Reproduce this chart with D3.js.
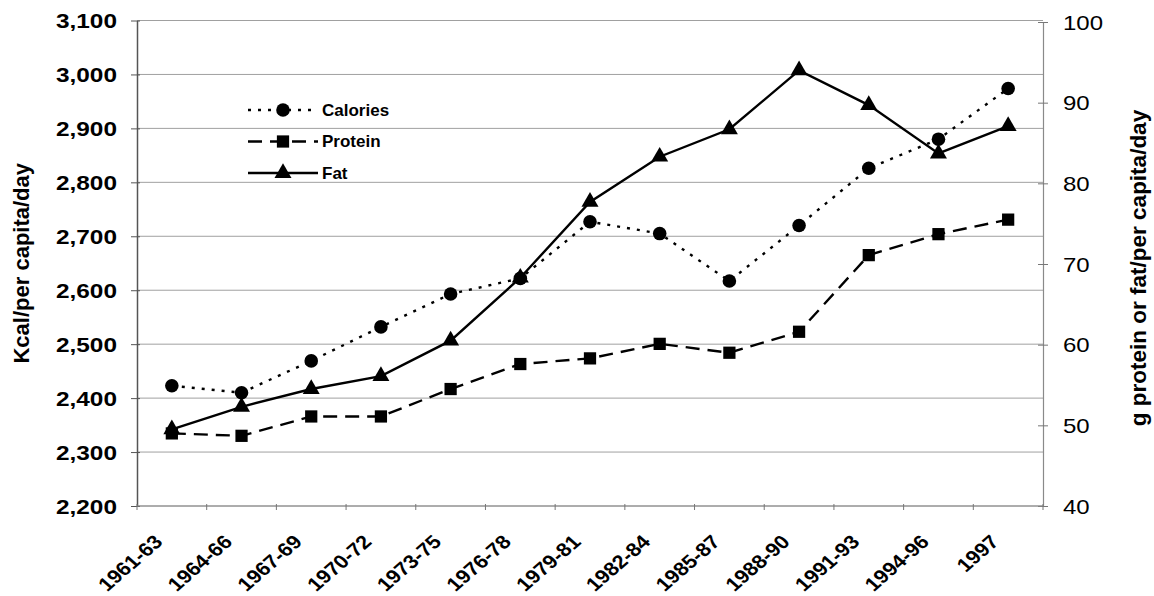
<!DOCTYPE html>
<html>
<head>
<meta charset="utf-8">
<script src="https://cdn.jsdelivr.net/npm/d3@7/dist/d3.min.js"></script>
<style>
  html, body { margin: 0; padding: 0; background: #fff; }
  svg { display: block; font-family: "Liberation Sans", Arial, sans-serif; }
</style>
</head>
<body>
<svg id="chart" width="1154" height="596"></svg>
<script>
// Per-capita food supply, three-year averages
const categories = ["1961-63","1964-66","1967-69","1970-72","1973-75","1976-78",
                    "1979-81","1982-84","1985-87","1988-90","1991-93","1994-96","1997"];
const calories = [2423, 2410, 2469, 2532, 2593, 2622, 2727, 2705, 2617, 2720, 2826, 2880, 2974];
const protein  = [49.0, 48.7, 51.1, 51.1, 54.5, 57.6, 58.3, 60.1, 59.0, 61.6, 71.1, 73.7, 75.5];
const fat      = [49.5, 52.3, 54.5, 56.1, 60.5, 68.3, 77.7, 83.3, 86.7, 94.0, 89.7, 83.7, 87.1];

const leftTicks  = [2200, 2300, 2400, 2500, 2600, 2700, 2800, 2900, 3000, 3100];
const rightTicks = [40, 50, 60, 70, 80, 90, 100];
const leftTitle  = "Kcal/per capita/day";
const rightTitle = "g protein or fat/per capita/day";
const seriesNames = ["Calories", "Protein", "Fat"];

const svg = d3.select("#chart");
const L = 137, R = 1043, T = 20.5, B = 506;

const x = d3.scaleBand().domain(categories).range([L, R]);
const yL = d3.scaleLinear().domain([2200, 3100]).range([B, T]);
const yR = d3.scaleLinear().domain([40, 100]).range([B, 22]);
const cx = d => x(d) + x.bandwidth() / 2;

// horizontal gridlines from the calorie axis
svg.append("g").selectAll("line").data(leftTicks).join("line")
  .attr("x1", L).attr("x2", R)
  .attr("y1", d => yL(d)).attr("y2", d => yL(d))
  .attr("stroke", "#a0a0a0").attr("stroke-width", 1);

// left axis
const gL = svg.append("g").attr("transform", `translate(${L},0)`)
  .call(d3.axisLeft(yL).tickValues(leftTicks).tickFormat(d3.format(",")).tickSize(0).tickPadding(0));
gL.select(".domain").attr("stroke", "#555").attr("stroke-width", 1.5);
gL.selectAll(".tick").append("line").attr("x1", -6).attr("x2", 3).attr("stroke", "#555");
gL.selectAll(".tick text")
  .attr("x", 0).attr("dy", "0.36em")
  .attr("transform", "translate(-20,0) scale(1.22,1)")
  .attr("fill", "#000").style("font-size", "20px").style("font-weight", "bold")
  .style("font-family", "'Liberation Sans', Arial, sans-serif");

// right axis
const gR = svg.append("g").attr("transform", `translate(${R},0)`)
  .call(d3.axisRight(yR).tickValues(rightTicks).tickSize(0).tickPadding(0));
gR.select(".domain").attr("stroke", "#8a8a8a").attr("stroke-width", 1.2);
gR.selectAll(".tick").append("line").attr("x1", -5).attr("x2", 5).attr("stroke", "#777");
gR.selectAll(".tick text")
  .attr("x", 0).attr("dy", "0.36em")
  .attr("transform", "translate(20,0) scale(1.2,1)")
  .attr("fill", "#000").style("font-size", "20px").style("font-weight", "normal")
  .style("font-family", "'Liberation Sans', Arial, sans-serif");

// bottom axis: ticks between categories, slanted labels
const gB = svg.append("g");
gB.append("line").attr("x1", L).attr("x2", R).attr("y1", B).attr("y2", B)
  .attr("stroke", "#8a8a8a").attr("stroke-width", 1.2);
const bounds = categories.map(c => x(c)).concat([x.range()[1]]);
gB.selectAll("line.tk").data(bounds).join("line").attr("class", "tk")
  .attr("x1", d => d).attr("x2", d => d).attr("y1", B - 2).attr("y2", B + 4)
  .attr("stroke", "#777");
gB.selectAll("text").data(categories).join("text")
  .attr("transform", d => `translate(${cx(d) - 8},${B + 37}) scale(1.15,1) rotate(-45)`)
  .attr("text-anchor", "end")
  .style("font-size", "19px").style("font-weight", "bold")
  .text(d => d);

// axis titles
svg.append("text")
  .attr("transform", `translate(29,${(T + B) / 2}) rotate(-90)`)
  .attr("text-anchor", "middle")
  .style("font-size", "22px").style("font-weight", "bold")
  .text(leftTitle);
svg.append("text")
  .attr("transform", `translate(1146,268) rotate(-90)`)
  .attr("text-anchor", "middle")
  .style("font-size", "22.5px").style("font-weight", "bold")
  .text(rightTitle);

// series
const series = [
  { name: seriesNames[0], values: calories, y: yL, dash: "3,7",  marker: "circle" },
  { name: seriesNames[1], values: protein,  y: yR, dash: "14,8", marker: "square" },
  { name: seriesNames[2], values: fat,      y: yR, dash: null,   marker: "triangle" }
];
const symbolOf = m => m === "circle" ? d3.symbol(d3.symbolCircle, 145)
                   : m === "square" ? d3.symbol(d3.symbolSquare, 150)
                   : d3.symbol(d3.symbolTriangle, 125);

series.forEach(s => {
  const line = d3.line().x((d, i) => cx(categories[i])).y(d => s.y(d));
  svg.append("path").datum(s.values)
    .attr("d", line).attr("fill", "none").attr("stroke", "#000")
    .attr("stroke-width", 2.4)
    .attr("stroke-dasharray", s.dash);
  svg.append("g").selectAll("path").data(s.values).join("path")
    .attr("transform", (d, i) => `translate(${cx(categories[i])},${s.y(d)})`)
    .attr("d", symbolOf(s.marker)()).attr("fill", "#000");
});

// legend
const lg = svg.append("g");
series.forEach((s, i) => {
  const yy = 110 + i * 31.5;
  lg.append("line").attr("x1", 248).attr("x2", 318).attr("y1", yy).attr("y2", yy)
    .attr("stroke", "#000").attr("stroke-width", 2.4).attr("stroke-dasharray", s.dash);
  lg.append("path").attr("transform", `translate(283,${yy})`)
    .attr("d", symbolOf(s.marker)()).attr("fill", "#000");
  lg.append("text").attr("x", 322).attr("y", yy).attr("dy", "0.35em")
    .style("font-size", "17px").style("font-weight", "bold").text(s.name);
});
</script>
</body>
</html>
